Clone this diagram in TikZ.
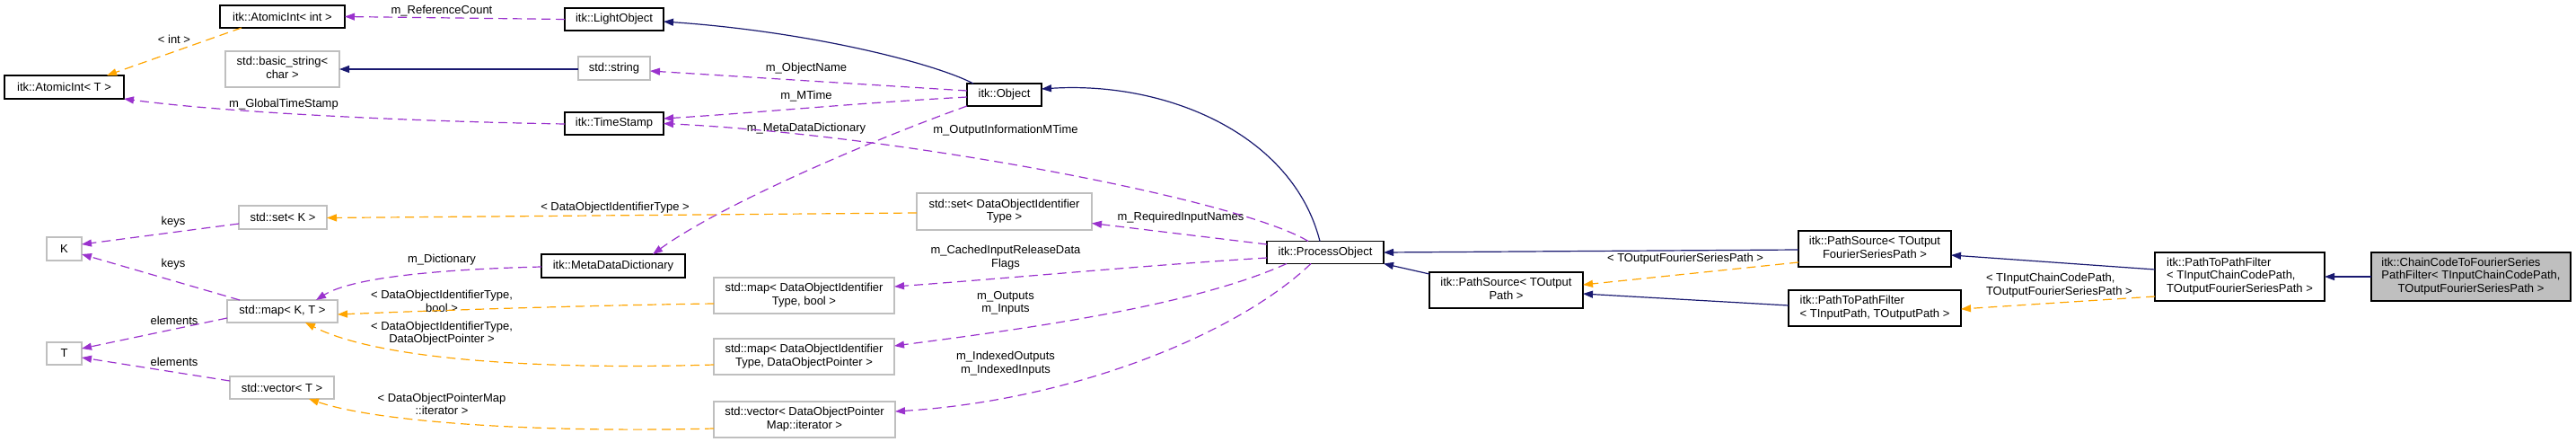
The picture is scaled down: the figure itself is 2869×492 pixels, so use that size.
\documentclass[tikz,border=0pt]{standalone}
\usepackage{fontspec}
\setmainfont{Liberation Sans}
\usetikzlibrary{arrows.meta,calc}
\definecolor{inhc}{HTML}{191970}
\definecolor{usec}{HTML}{9A32CD}
\definecolor{tmplc}{HTML}{FFA500}
\definecolor{grayb}{HTML}{BFBFBF}
\definecolor{shadec}{HTML}{BFBFBF}
\newcommand{\twol}[2]{\begin{tabular}{@{}l@{}}#1\\\multicolumn{1}{@{}c@{}}{#2}\end{tabular}}
\newcommand{\threel}[3]{\begin{tabular}{@{}l@{}}#1\\#2\\\multicolumn{1}{@{}c@{}}{#3}\end{tabular}}
\tikzset{
  box/.style={draw=black, line width=1.2pt, rectangle, inner sep=0pt, outer sep=0pt, align=center},
  gbox/.style={box, draw=grayb},
  sz/.style 2 args={minimum width=#1pt, minimum height=#2pt},
  lbl/.style={inner sep=0pt, outer sep=0pt, align=center},
  inhe/.style={draw=inhc, line width=1.2pt, -{Triangle[length=11pt,width=8pt]}},
  usee/.style={draw=usec, line width=1.2pt, dash pattern=on 10pt off 6pt, -{Triangle[length=11pt,width=8pt]}},
  tmple/.style={draw=tmplc, line width=1.2pt, dash pattern=on 10pt off 6pt, -{Triangle[length=11pt,width=8pt]}},
}
\begin{document}
\begin{tikzpicture}[x=1pt, y=-1pt, font=\fontsize{13}{14.5}\selectfont]
\useasboundingbox (0,0) rectangle (2869,492);
% nodes
\node[box, sz={139}{25}] (aintint) at (314.5,18.5) {itk::AtomicInt< int >};
\node[box, sz={110}{25}] (lightobj) at (684,21.5) {itk::LightObject};
\node[gbox, sz={127}{40}] (basicstr) at (314.5,77) {\twol{std::basic\_string<}{char >}};
\node[gbox, sz={80}{26}] (stdstring) at (684,76) {std::string};
\node[box, sz={133}{26}] (aintT) at (71.5,97) {itk::AtomicInt< T >};
\node[box, sz={110}{25}] (timestamp) at (684,137.5) {itk::TimeStamp};
\node[box, sz={83}{25}] (object) at (1118.5,105.5) {itk::Object};
\node[gbox, sz={98}{26}] (setK) at (315,242) {std::set< K >};
\node[gbox, sz={195}{41}] (setDOIT) at (1118.5,235.5) {\twol{std::set< DataObjectIdentifier}{Type >}};
\node[gbox, sz={39}{26}] (K) at (71.5,277) {K};
\node[box, sz={160}{26}] (mdd) at (683,296) {itk::MetaDataDictionary};
\node[gbox, sz={123}{25}] (mapKT) at (314.5,346.5) {std::map< K, T >};
\node[gbox, sz={39}{25}] (T) at (71.5,393.5) {T};
\node[gbox, sz={116}{25}] (vecT) at (314,431.5) {std::vector< T >};
\node[gbox, sz={201}{40}] (mapbool) at (895.5,329) {\twol{std::map< DataObjectIdentifier}{Type, bool >}};
\node[gbox, sz={201}{40}] (mapdop) at (895.5,397) {\twol{std::map< DataObjectIdentifier}{Type, DataObjectPointer >}};
\node[gbox, sz={202}{40}] (vecdop) at (896,467) {\twol{std::vector< DataObjectPointer}{Map::iterator >}};
\node[box, sz={130}{25}] (procobj) at (1476,281) {itk::ProcessObject};
\node[box, sz={170}{40}] (psfsp) at (2088,277) {\twol{itk::PathSource< TOutput}{FourierSeriesPath >}};
\node[box, sz={171}{40}] (psop) at (1677.5,323) {\twol{itk::PathSource< TOutput}{Path >}};
\node[box, sz={192}{40}] (ptpf) at (2088,343) {\twol{itk::PathToPathFilter}{< TInputPath, TOutputPath >}};
\node[box, sz={189}{54}] (ptpfcc) at (2494.5,308) {\threel{itk::PathToPathFilter}{< TInputChainCodePath,}{TOutputFourierSeriesPath >}};
\node[box, sz={222}{54}, fill=shadec] (chain) at (2752,308) {\threel{itk::ChainCodeToFourierSeries}{PathFilter< TInputChainCodePath,}{TOutputFourierSeriesPath >}};
% labels
\node[lbl] (lref) at (492,12) {m\_ReferenceCount};
\node[lbl] (lint) at (194,44) {< int >};
\node[lbl] (lgts) at (316,116) {m\_GlobalTimeStamp};
\node[lbl] (lobjname) at (898,76) {m\_ObjectName};
\node[lbl] (lmtime) at (898,107) {m\_MTime};
\node[lbl] (lmdd) at (898,143) {m\_MetaDataDictionary};
\node[lbl] (loimt) at (1120,145) {m\_OutputInformationMTime};
\node[lbl] (ldoit) at (685,231) {< DataObjectIdentifierType >};
\node[lbl] (lrin) at (1315,242) {m\_RequiredInputNames};
\node[lbl] (lkeys1) at (193,247) {keys};
\node[lbl] (lkeys2) at (193,294) {keys};
\node[lbl] (ldict) at (492,289) {m\_Dictionary};
\node[lbl] (lbool) at (492,335.5) {< DataObjectIdentifierType,\\bool >};
\node[lbl] (lel1) at (194,357) {elements};
\node[lbl] (ldop) at (492,371) {< DataObjectIdentifierType,\\DataObjectPointer >};
\node[lbl] (lel2) at (194,403) {elements};
\node[lbl] (liter) at (492,450) {< DataObjectPointerMap\\::iterator >};
\node[lbl] (lcached) at (1120,286.5) {m\_CachedInputReleaseData\\Flags};
\node[lbl] (lio) at (1120,337.5) {m\_Outputs\\m\_Inputs};
\node[lbl] (liio) at (1120,404.5) {m\_IndexedOutputs\\m\_IndexedInputs};
\node[lbl] (ltofsp) at (1877,288) {< TOutputFourierSeriesPath >};
\node[lbl, align=left, anchor=west] (lticcp) at (2212,317.5) {< TInputChainCodePath,\\TOutputFourierSeriesPath >};
% edges
\draw[inhe] ($(object.north)+(-34.5,0)$) .. controls (1040,70) and (900,35) .. ($(lightobj.east)+(0,2.5)$);
\draw[inhe] ($(stdstring.west)+(0,1)$) -- (basicstr.east);
\draw[usee] (lightobj.west) -- (aintint.east);
\draw[tmple] ($(aintint.south)+(-45.5,0)$) -- ($(aintT.north)+(47.5,0)$);
\draw[usee] ($(timestamp.west)+(0,0.5)$) .. controls (450,135) and (250,125) .. (aintT.south east);
\draw[usee] ($(object.west)+(0,-4.5)$) -- ($(stdstring.east)+(0,3)$);
\draw[usee] ($(object.west)+(0,2.5)$) .. controls (950,115) and (850,125) .. ($(timestamp.east)+(0,-5.5)$);
\draw[usee] ($(procobj.north)+(-19,0)$) .. controls (1380,222) and (1000,150) .. (timestamp.east);
\draw[usee] (object.south west) .. controls (960,160) and (800,230) .. ($(mdd.north)+(44,0)$);
\draw[tmple] ($(setDOIT.west)+(0,1.5)$) -- ($(setK.east)+(0,0.5)$);
\draw[usee] ($(procobj.west)+(0,-9)$) -- ($(setDOIT.east)+(0,13)$);
\draw[usee] ($(setK.west)+(0,7)$) -- ($(K.east)+(0,-5)$);
\draw[usee] ($(mapKT.north)+(-47.5,0)$) -- ($(K.east)+(0,6)$);
\draw[usee] ($(mdd.west)+(0,1)$) .. controls (480,300) and (390,310) .. ($(mapKT.north)+(37.5,0)$);
\draw[tmple] ($(mapbool.west)+(0,9)$) .. controls (650,340) and (500,345) .. ($(mapKT.east)+(0,3.5)$);
\draw[tmple] ($(mapdop.west)+(0,9)$) .. controls (600,412) and (420,400) .. ($(mapKT.south)+(25.5,0)$);
\draw[usee] ($(mapKT.west)+(0,7.5)$) -- ($(T.east)+(0,-5.5)$);
\draw[usee] ($(vecT.west)+(0,-7.5)$) -- ($(T.east)+(0,4.5)$);
\draw[tmple] ($(vecdop.west)+(0,10)$) .. controls (600,482) and (420,470) .. ($(vecT.south)+(30,0)$);
\draw[usee] ($(procobj.west)+(0,6)$) .. controls (1280,295) and (1120,310) .. ($(mapbool.east)+(0,-10)$);
\draw[usee] ($(procobj.south)+(-43,0)$) .. controls (1330,340) and (1150,365) .. ($(mapdop.east)+(0,-12)$);
\draw[usee] ($(procobj.south)+(-16,0)$) .. controls (1380,370) and (1200,445) .. ($(vecdop.east)+(0,-9)$);
\draw[inhe] ($(procobj.north)+(-6,0)$) .. controls (1440,150) and (1300,90) .. ($(object.east)+(0,-6.5)$);
\draw[inhe] ($(psfsp.west)+(0,1)$) -- (procobj.east);
\draw[inhe] ($(psop.north west)+(0,2)$) -- (procobj.south east);
\draw[tmple] ($(psfsp.west)+(0,15)$) -- ($(psop.east)+(0,-6)$);
\draw[inhe] ($(ptpf.west)+(0,-3)$) -- ($(psop.east)+(0,4)$);
\draw[inhe] ($(ptpfcc.west)+(0,-8)$) -- ($(psfsp.east)+(0,7)$);
\draw[tmple] ($(ptpfcc.west)+(0,22)$) -- ($(ptpf.east)+(0,1)$);
\draw[inhe] (chain.west) -- (ptpfcc.east);
\end{tikzpicture}
\end{document}
